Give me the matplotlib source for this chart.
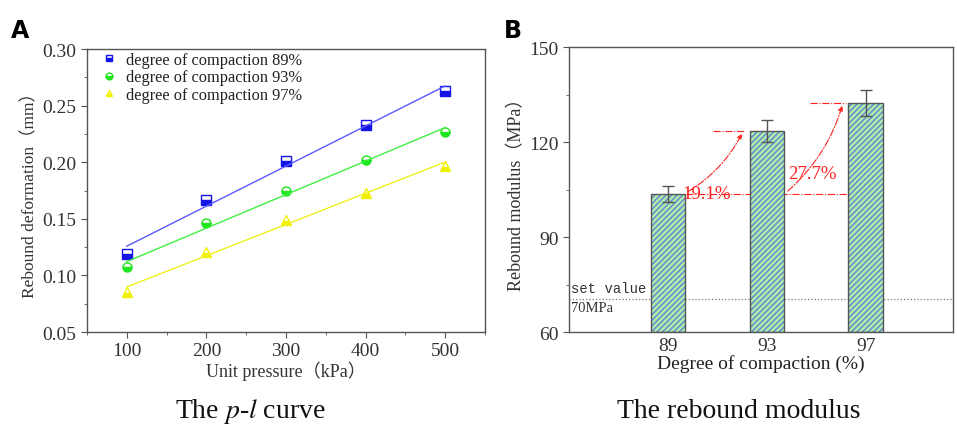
import numpy as np
import matplotlib
matplotlib.use("Agg")
import matplotlib.pyplot as plt
from matplotlib.ticker import MultipleLocator

plt.rcParams['font.family'] = ['Liberation Serif', 'Noto Sans CJK SC']
plt.rcParams['mathtext.fontset'] = 'stix'
plt.rcParams['hatch.linewidth'] = 1.0

# panel A data
pressure = [100, 200, 300, 400, 500]
deform_89 = [0.119, 0.167, 0.201, 0.233, 0.263]
deform_93 = [0.107, 0.146, 0.175, 0.202, 0.227]
deform_97 = [0.085, 0.121, 0.149, 0.173, 0.197]
series_labels = ["degree of compaction 89%", "degree of compaction 93%",
                 "degree of compaction 97%"]

# panel B data
compaction = ["89", "93", "97"]
modulus = [103.6, 123.4, 132.3]
modulus_err = [2.6, 3.5, 4.2]
set_value = 70.5
increase_labels = ["19.1%", "27.7%"]

fig = plt.figure(figsize=(9.57, 4.27), dpi=100)

# ---------- A ----------
ax1 = fig.add_axes([0.0909, 0.2201, 0.4159, 0.6628])
styles = [('s', '#1414e6', '#5a5aff'), ('o', '#1ee61e', '#40f040'),
          ('^', '#f0f000', '#f0f020')]
x = np.array(pressure)
for ys, lab, (mk, c, lc) in zip([deform_89, deform_93, deform_97], series_labels, styles):
    ax1.plot(x, ys, linestyle='none', marker=mk, markersize=6.5, color=c,
             fillstyle='bottom', markerfacecoloralt='white', markeredgecolor=c,
             markeredgewidth=1, label=lab)
    k, b = np.polyfit(x, ys, 1)
    ax1.plot(x, k * x + b, color=lc, linewidth=1)

ax1.set_xlim(50, 550)
ax1.set_ylim(0.05, 0.30)
ax1.set_xticks(pressure)
ax1.xaxis.set_minor_locator(MultipleLocator(50))
ax1.yaxis.set_major_locator(MultipleLocator(0.05))
ax1.yaxis.set_minor_locator(MultipleLocator(0.025))
ax1.yaxis.set_major_formatter(plt.FuncFormatter(lambda v, p: f"{v:.2f}"))
ax1.set_xlabel("Unit pressure（kPa）", fontsize=13, color='#333333', labelpad=1)
ax1.set_ylabel("Rebound deformation（mm）", fontsize=12.5, color='#333333', labelpad=3)
leg = ax1.legend(loc='upper left', bbox_to_anchor=(0.0, 1.025), frameon=False,
                 fontsize=11.8, handletextpad=0.3, labelspacing=0.1,
                 borderaxespad=0.2, markerscale=0.75, handlelength=1.5,
                 labelcolor='#222222')

# ---------- B ----------
ax2 = fig.add_axes([0.5946, 0.2201, 0.4010, 0.6674])
pos = np.arange(len(compaction))
ax2.bar(pos, [m - 60 for m in modulus], bottom=60, width=0.35, color='#aaeeaa',
        edgecolor='#6a7fd0', hatch='//////', linewidth=0, zorder=2)
ax2.bar(pos, [m - 60 for m in modulus], bottom=60, width=0.35, fill=False,
        edgecolor='#555555', linewidth=1, zorder=3)
ax2.errorbar(pos, modulus, yerr=modulus_err, fmt='none', ecolor='#555555',
             elinewidth=1, capsize=4, capthick=1, zorder=4)

ax2.axhline(set_value, color='#777777', linestyle=':', linewidth=0.9, zorder=1)
ax2.text(-0.98, set_value + 1.2, "set value", family='Liberation Mono',
         fontsize=10, color='#333333', va='bottom')
ax2.text(-0.98, set_value - 0.8, "70MPa", family='Liberation Serif',
         fontsize=10.5, color='#333333', va='top')

red = '#ff2020'
ax2.plot([0.18, 2.16], [modulus[0], modulus[0]], color=red, linestyle='-.',
         linewidth=0.8, zorder=1)
ax2.plot([0.46, 0.78], [modulus[1], modulus[1]], color=red, linestyle='-.',
         linewidth=0.8, zorder=5)
ax2.plot([1.44, 1.80], [modulus[2], modulus[2]], color=red, linestyle='-.',
         linewidth=0.8, zorder=5)
ax2.annotate("", xy=(0.76, modulus[1]), xytext=(0.18, modulus[0] + 0.3),
             arrowprops=dict(arrowstyle='-|>', color=red, lw=0.8, linestyle='-.',
                             connectionstyle='arc3,rad=0.15', mutation_scale=7),
             zorder=5)
ax2.annotate("", xy=(1.77, modulus[2]), xytext=(1.19, modulus[0] + 0.3),
             arrowprops=dict(arrowstyle='-|>', color=red, lw=0.8, linestyle='-.',
                             connectionstyle='arc3,rad=0.15', mutation_scale=7),
             zorder=5)
ax2.text(0.15, modulus[0], increase_labels[0], color=red, fontsize=13.5,
         va='center', ha='left', zorder=6)
ax2.text(1.22, 110.2, increase_labels[1], color=red, fontsize=13.5,
         va='center', ha='left', zorder=6)

ax2.set_xlim(-1.0, 2.88)
ax2.set_ylim(60, 150)
ax2.set_xticks(pos)
ax2.set_xticklabels(compaction)
ax2.yaxis.set_major_locator(MultipleLocator(30))
ax2.yaxis.set_minor_locator(MultipleLocator(15))
ax2.set_xlabel("Degree of compaction (%)", fontsize=14, color='#222222', labelpad=0)
ax2.set_ylabel("Rebound modulus（MPa）", fontsize=13, color='#333333', labelpad=3)

for ax in (ax1, ax2):
    for s in ax.spines.values():
        s.set_color('#555555')
        s.set_linewidth(1)
    ax.tick_params(which='both', direction='out', colors='#555555', labelcolor='#333333',
                   labelsize=14)
    ax.tick_params(which='major', length=4)
    ax.tick_params(which='minor', length=2.5)

ax2.tick_params(axis='x', which='both', direction='in')
ax2.tick_params(axis='x', which='minor', bottom=False)

fig.text(0.011, 0.91, "A", fontsize=17, fontweight='bold', family='DejaVu Sans')
fig.text(0.527, 0.91, "B", fontsize=17, fontweight='bold', family='DejaVu Sans')
fig.text(0.262, 0.02, "The $\\it{p}$-$\\it{l}$ curve", fontsize=20, ha='center',
         color='#111111')
fig.text(0.772, 0.02, "The rebound modulus", fontsize=20, ha='center',
         color='#111111')

fig.savefig("out.png", dpi=100, facecolor='white')
